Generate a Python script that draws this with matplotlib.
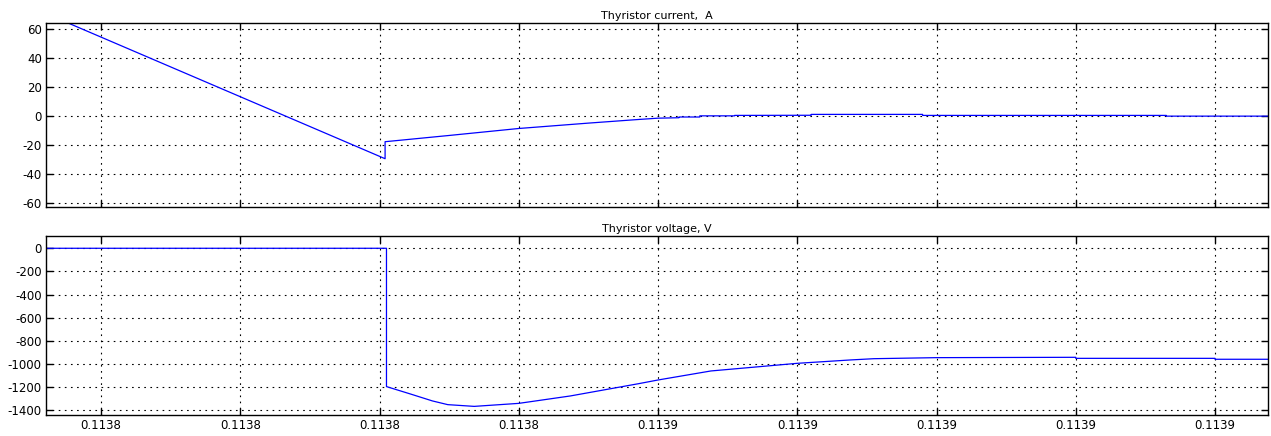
import matplotlib
matplotlib.use("Agg")
import matplotlib.pyplot as plt
import numpy as np
from matplotlib.ticker import FormatStrFormatter

plt.rcParams['font.family'] = ['DejaVu Sans']
plt.rcParams['axes.unicode_minus'] = False

# time axis: T0 + offset in microseconds
T0 = 0.11384
tick_us = [3, 5, 7, 9, 11, 13, 15, 17, 19]
xlim_us = (2.21, 19.76)

# thyristor current, A
cur_us = [2.21, 7.08, 7.08, 8.0, 9.0, 10.0, 10.72, 11.0, 11.3, 11.3, 11.6, 11.6, 12.1, 12.1,
          13.2, 13.2, 14.8, 14.8, 18.3, 18.3, 19.76]
cur_val = [70.6, -29.3, -17.6, -13.3, -8.5, -4.8, -2.3, -1.4, -1.1, -0.6, -0.6, 0.2, 0.2, 0.5,
           0.6, 1.2, 1.2, 0.5, 0.5, 0.0, 0.0]

# thyristor voltage, V
volt_us = [2.21, 7.10, 7.10, 7.46, 7.76, 7.98, 8.36, 9.0, 9.74, 10.72, 11.0, 11.76, 13.0,
           13.76, 14.1, 15.0, 17.0, 17.0, 19.0, 19.0, 19.76]
volt_val = [0, 0, -1195, -1262, -1319, -1351, -1366, -1340, -1276, -1170, -1138, -1060, -994,
            -965, -954, -945, -942, -951, -951, -959, -959]

cur_yticks = [60, 40, 20, 0, -20, -40, -60]
volt_yticks = [0, -200, -400, -600, -800, -1000, -1200, -1400]

t_cur = T0 + np.array(cur_us) * 1e-6
t_volt = T0 + np.array(volt_us) * 1e-6
xticks = T0 + np.array(tick_us) * 1e-6
xlim = (T0 + xlim_us[0] * 1e-6, T0 + xlim_us[1] * 1e-6)

fig = plt.figure(figsize=(12.71, 4.36), dpi=100)
ax1 = fig.add_axes([0.0362, 0.5245, 0.9614, 0.4221])
ax2 = fig.add_axes([0.0362, 0.0475, 0.9614, 0.4112])

ax1.plot(t_cur, cur_val, color='#0000ff', linewidth=0.9)
ax2.plot(t_volt, volt_val, color='#0000ff', linewidth=0.9)

ax1.set_ylim(-62.75, 63.9)
ax2.set_ylim(-1443, 106)
ax1.set_yticks(cur_yticks)
ax2.set_yticks(volt_yticks)

for ax, title in [(ax1, 'Thyristor current,  A'), (ax2, 'Thyristor voltage, V')]:
    ax.set_xlim(*xlim)
    ax.set_xticks(xticks)
    ax.xaxis.set_major_formatter(FormatStrFormatter('%.4f'))
    ax.grid(True, color='black', linestyle=(0, (1.5, 4)), linewidth=0.8)
    ax.tick_params(direction='in', top=True, right=True, length=5, width=1,
                   labelsize=8.5, pad=3)
    for s in ax.spines.values():
        s.set_linewidth(1.0)
    ax.set_title(title, fontsize=8, pad=3)

ax1.tick_params(labelbottom=False)

fig.savefig('out.png', dpi=100)
